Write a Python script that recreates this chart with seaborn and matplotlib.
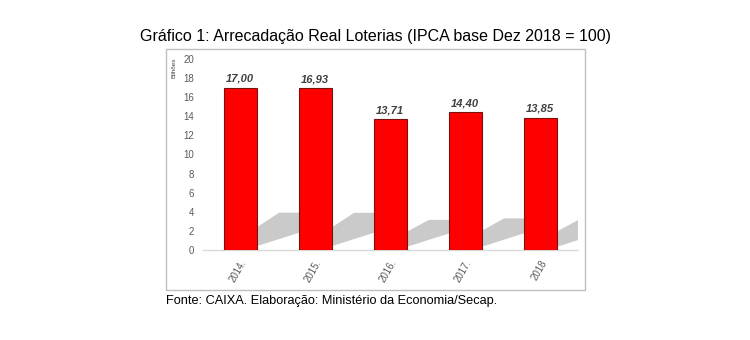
import matplotlib
matplotlib.use("Agg")
import matplotlib.pyplot as plt
import seaborn as sns
import pandas as pd
from matplotlib.patches import Polygon, Rectangle

years = ["2014.", "2015.", "2016.", "2017.", "2018"]
values = [17.00, 16.93, 13.71, 14.40, 13.85]
labels = ["17,00", "16,93", "13,71", "14,40", "13,85"]
yticks = [0, 2, 4, 6, 8, 10, 12, 14, 16, 18, 20]

title = "Gráfico 1: Arrecadação Real Loterias (IPCA base Dez 2018 = 100)"
source = "Fonte: CAIXA. Elaboração: Ministério da Economia/Secap."

sns.set_theme(style="white")
plt.rcParams["font.family"] = ["Liberation Sans", "DejaVu Sans"]

df = pd.DataFrame({"ano": years, "valor": values})

fig = plt.figure(figsize=(7.5, 3.4), dpi=100)
ax = fig.add_axes([202.5 / 750, 1 - 250 / 340, 375 / 750, 191 / 340])

sns.barplot(data=df, x="ano", y="valor", color="#FF0000", saturation=1,
            edgecolor="#7A1010", linewidth=0.8, width=0.44, ax=ax, zorder=3)

# shadows derived from the drawn bars
for p, v, lab in zip(ax.patches, values, labels):
    xr = p.get_x() + p.get_width()
    h = 0.23 * v
    poly = Polygon([(xr, 0.1 * h), (xr, 0.6 * h), (xr + 0.3, h), (xr + 1.0, h),
                    (xr + 1.0, 0.1 * h + 2.5)],
                   closed=True, facecolor="#CACACA", edgecolor="none", zorder=2)
    ax.add_patch(poly)
    ax.text(p.get_x() + p.get_width() / 2, v + 0.4, lab,
            ha="center", va="bottom", fontsize=8, fontweight="bold",
            fontstyle="italic", color="#404040", zorder=4)

ax.set_xlim(-0.5, 4.5)
ax.set_ylim(0, 20)
ax.set_yticks(yticks)
ax.set_yticklabels([str(t) for t in yticks], fontsize=7, color="#595959")
ax.set_xlabel("")
ax.set_ylabel("")
ax.tick_params(axis="both", length=0, pad=6)
for lbl in ax.get_xticklabels():
    lbl.set_rotation(60)
    lbl.set_ha("right")
    lbl.set_va("top")
    lbl.set_rotation_mode("anchor")
    lbl.set_fontsize(7)
    lbl.set_color("#595959")
for s in ["top", "right", "left"]:
    ax.spines[s].set_visible(False)
ax.spines["bottom"].set_color("#D9D9D9")
ax.spines["bottom"].set_linewidth(1)
ax.set_facecolor("none")

# frame around chart
fig.patches.append(Rectangle((166 / 750, 1 - 290 / 340), (585 - 166) / 750, 241 / 340,
                             transform=fig.transFigure, fill=False,
                             edgecolor="#BFBFBF", linewidth=1, zorder=0))

fig.text(174 / 750, 1 - 68 / 340, "Bilhões", rotation=90, fontsize=4.5,
         color="#404040", ha="center", va="center")
fig.text(375 / 750, 1 - 37 / 340, title, ha="center", va="center", fontsize=11.5, color="#000000")
fig.text(166 / 750, 1 - 301 / 340, source, ha="left", va="center", fontsize=9.2, color="#000000")

fig.savefig("out.png", dpi=100)
